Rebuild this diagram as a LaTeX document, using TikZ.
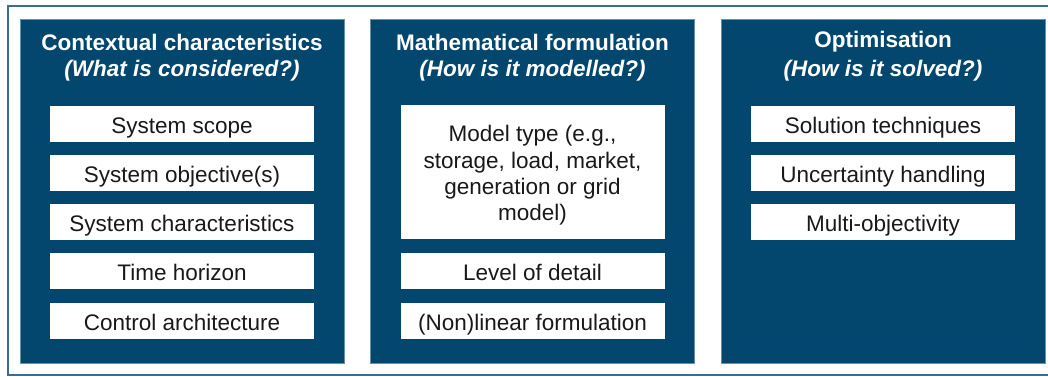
\documentclass[tikz,border=0pt]{standalone}
\usepackage{fontspec}
\setmainfont{Liberation Sans}
\usetikzlibrary{positioning}
\definecolor{cnavy}{HTML}{03476F}
\definecolor{cframe}{HTML}{3A6C96}
\tikzset{
  every picture/.style={line width=1pt},
  panel/.style={draw=cnavy!60!white, line width=0.6pt, fill=cnavy, minimum width=324pt, minimum height=344pt, inner sep=0pt},
  itembox/.style={fill=white, minimum width=264pt, minimum height=36pt, inner sep=0pt},
  item/.style={itembox, text=black!90, text height=19pt, text depth=1pt,
    font=\fontsize{22.5}{26.5}\selectfont},
  itemtext/.style={align=center, text=black!90, inner sep=0pt, font=\fontsize{22.5}{26.3}\selectfont},
  head/.style={text=white, font=\fontsize{22.5}{27}\selectfont\bfseries},
  sub/.style={text=white, font=\fontsize{22.5}{27}\selectfont\bfseries\itshape},
}

\begin{document}
\begin{tikzpicture}[x=1pt, y=-1pt]
  \useasboundingbox (0,0) rectangle (1048,376);
  \clip (0,0) rectangle (1048,376);
  \draw[cframe, line width=2pt] (7.5,5.5) rectangle (1070,375);

  % three columns
  \node[panel] (context) at (182,191) {};
  \node[panel] (model) at (532.5,191) {};
  \node[panel] (solve) at (883,191) {};

  \node[head] (contexthead) at (182,42) {Contextual characteristics};
  \node[sub] (contextsub) at (182,71) {(What is considered?)};
  \node[head] (modelhead) at (532.5,42) {Mathematical formulation};
  \node[sub] (modelsub) at (532.5,71) {(How is it modelled?)};
  \node[head] (solvehead) at (883,42) {Optimisation};
  \node[sub] (solvesub) at (883,71) {(How is it solved?)};

  \node[item] (scope) at (182,124) {System scope};
  \node[item] (objective) at (182,173) {System objective(s)};
  \node[item] (charact) at (182,222) {System characteristics};
  \node[item] (horizon) at (182,271) {Time horizon};
  \node[item] (control) at (182,321) {Control architecture};

  \node[itembox, minimum height=134pt] (modeltype) at (532.5,172) {};
  \node[itemtext] (modeltypetext) at ([yshift=-3.5pt]modeltype.center)
    {Model type (e.g.,\\ storage, load, market,\\ generation or grid\\ model)};
  \node[item] (detail) at (532.5,271) {Level of detail};
  \node[item] (linear) at (532.5,321) {(Non)linear formulation};

  \node[item] (technique) at (883,124) {Solution techniques};
  \node[item] (uncertain) at (883,173) {Uncertainty handling};
  \node[item] (multiobj) at (883,222) {Multi-objectivity};
\end{tikzpicture}
\end{document}
